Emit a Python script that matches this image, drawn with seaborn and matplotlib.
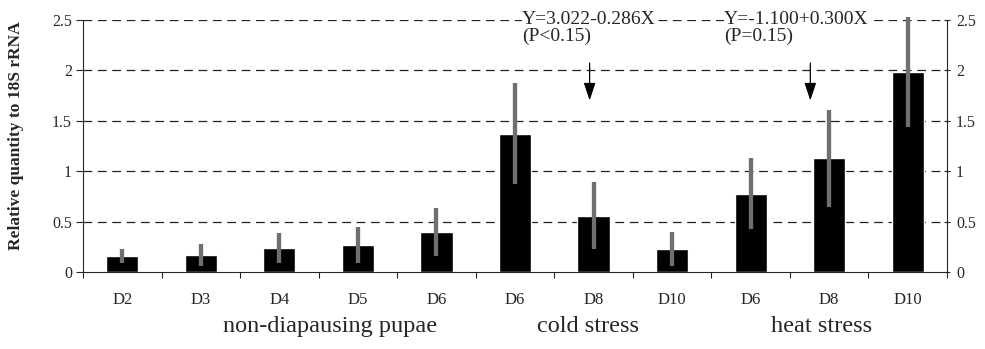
import numpy as np
import pandas as pd
import matplotlib
matplotlib.use("Agg")
import matplotlib.pyplot as plt
import seaborn as sns
from matplotlib.ticker import FixedLocator

# values
days = ["D2", "D3", "D4", "D5", "D6", "D6", "D8", "D10", "D6", "D8", "D10"]
groups = ["non-diapausing pupae"] * 5 + ["cold stress"] * 3 + ["heat stress"] * 3
quantity = [0.16, 0.17, 0.24, 0.27, 0.40, 1.37, 0.56, 0.23, 0.78, 1.13, 1.98]
error = [0.07, 0.11, 0.15, 0.18, 0.24, 0.50, 0.33, 0.17, 0.35, 0.48, 0.54]
yticks = [0, 0.5, 1, 1.5, 2, 2.5]
group_labels = ["non-diapausing pupae", "cold stress", "heat stress"]
group_xpos = [2.65, 5.93, 8.9]
fits = ["Y=3.022-0.286X", "Y=-1.100+0.300X"]
fit_p = ["(P<0.15)", "(P=0.15)"]

sns.set_style("ticks")
plt.rcParams["font.family"] = ["Liberation Serif", "DejaVu Serif"]

df = pd.DataFrame({"key": [f"{g}|{d}" for g, d in zip(groups, days)],
                   "day": days, "group": groups, "value": quantity, "err": error})

fig = plt.figure(figsize=(9.85, 3.49), dpi=100)
ax = fig.add_axes([0.0843, 0.2192, 0.8771, 0.7249])

# dashed grid behind the bars
for t in yticks[1:]:
    ax.axhline(t, color="#222222", lw=0.9, ls=(0, (7, 4.5)), zorder=0)

sns.barplot(data=df, x="key", y="value", order=df["key"], color="black",
            saturation=1, width=0.41, errorbar=None, ax=ax, zorder=2)

eb = ax.errorbar(np.arange(len(df)), df["value"], yerr=df["err"], fmt="none",
                 ecolor="#6f6f6f", elinewidth=3.1, capsize=0, zorder=3)
for lc in eb.lines[2]:
    lc.set_clip_on(False)

ax.set_xlim(-0.5, len(df) - 0.5)
ax.set_ylim(0, 2.5)
ax.set_yticks(yticks)
ax.set_yticklabels([f"{t:g}" for t in yticks], fontsize=11.5)
ax.set_xticks(np.arange(len(df)))
ax.set_xticklabels(days, fontsize=12)
ax.xaxis.set_minor_locator(FixedLocator(np.arange(len(df) + 1) - 0.5))
ax.tick_params(axis="x", which="major", length=0, pad=14)
ax.tick_params(axis="x", which="minor", length=4, width=0.8, direction="out")
ax.tick_params(axis="y", length=5, width=0.8, pad=3)
ax.set_xlabel("")
ax.set_ylabel("")

for s in ["top", "right"]:
    ax.spines[s].set_visible(False)
for s in ["left", "bottom"]:
    ax.spines[s].set_linewidth(0.8)

# right hand axis with the same scale
ax2 = ax.twinx()
ax2.set_ylim(0, 2.5)
ax2.set_yticks(yticks)
ax2.set_yticklabels([f"{t:g}" for t in yticks], fontsize=11.5)
ax2.tick_params(axis="y", length=5, width=0.8, direction="inout", pad=4)
for s in ["top", "left", "bottom"]:
    ax2.spines[s].set_visible(False)
ax2.spines["right"].set_linewidth(0.8)

# group labels under the days
for lab, xp in zip(group_labels, group_xpos):
    ax.text(xp, -0.53, lab, ha="center", va="center", fontsize=17.5)

# regression notes and arrows
text_x = [5.09, 7.66]
arrow_x = [5.95, 8.76]
for fx, ax_x, f, p in zip(text_x, arrow_x, fits, fit_p):
    ax.text(fx, 2.46, f, ha="left", va="baseline", fontsize=14, zorder=5,
            bbox=dict(facecolor="white", edgecolor="none", pad=0.3))
    ax.text(fx, 2.285, p, ha="left", va="baseline", fontsize=14, zorder=5)
    ax.annotate("", xy=(ax_x, 1.70), xytext=(ax_x, 2.07),
                arrowprops=dict(arrowstyle="-|>,head_length=0.9,head_width=0.3",
                                color="black", lw=0.9, mutation_scale=12,
                                shrinkA=0, shrinkB=0), zorder=5)

fig.text(0.016, 0.61, "Relative quantity to 18S rRNA", rotation=90,
         ha="center", va="center", fontsize=12.5, fontweight="bold")

fig.savefig("out.png", dpi=100)
